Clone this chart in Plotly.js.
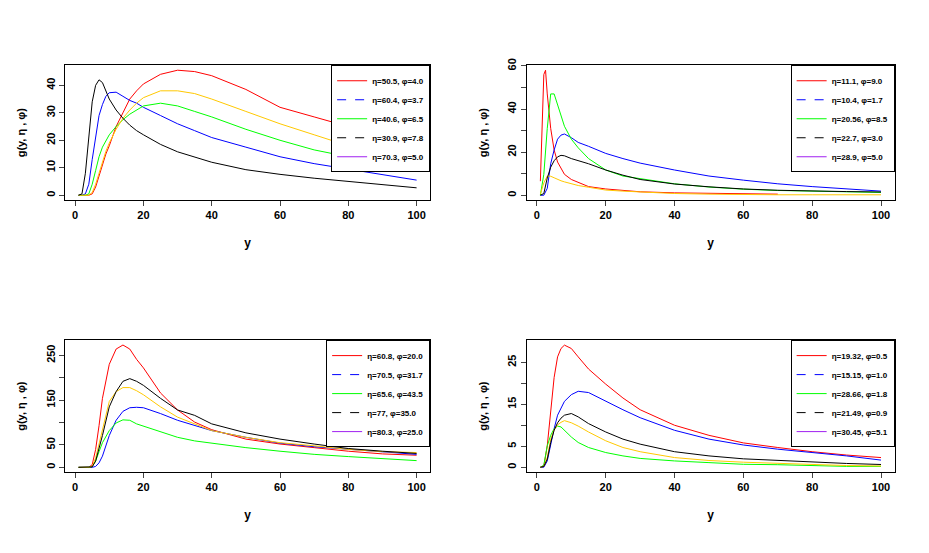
<!DOCTYPE html>
<html>
<head>
<meta charset="utf-8">
<script src="https://cdn.plot.ly/plotly-3.0.1.min.js"></script>
<style>body{margin:0;background:#fff}#chart{width:929px;height:553px}</style>
</head>
<body>
<div id="chart"></div>
<script>
// panel 1
const x1 = [1, 2, 3, 4, 5, 6, 7, 8, 9, 10, 12, 14, 16, 18, 20, 25, 30, 35, 40, 50, 60, 70, 80, 90, 100];
const p1Red = [0, 0, 0, 0, 0.5, 3, 7, 11, 15, 18, 25, 30, 35, 38, 40.5, 44, 45.5, 45, 43.5, 38.5, 32, 28.5, 25, 21.5, 18];
const p1Blue = [0, 0, 0.5, 4, 13, 22, 29, 33, 36, 37.3, 37.5, 36, 34.5, 33.5, 32, 29, 26, 23.5, 21, 17.5, 14, 11.5, 9.5, 7.5, 5.5];
const p1Green = [0, 0, 0, 0.5, 4, 9, 14, 17.5, 20, 22, 25, 27.5, 29.5, 31, 32.5, 33.5, 32.5, 30.5, 28.5, 24, 20, 16.5, 14, 11.5, 9];
const p1Gold = [0, 0, 0, 0, 1, 4, 8, 12, 16, 19, 24, 28, 31, 33.5, 35.5, 38, 38, 37, 35, 30.5, 26, 22, 18, 15.5, 12.5];
const p1Black = [0, 0.5, 8, 22, 34, 40, 42, 41, 38, 35, 31, 28, 25.5, 23.5, 22, 18.5, 15.8, 13.8, 12, 9.3, 7.6, 6.2, 5, 3.8, 2.7];
const p1Labels = ['η=50.5, φ=4.0', 'η=60.4, φ=3.7', 'η=40.6, φ=6.5', 'η=30.9, φ=7.8', 'η=70.3, φ=5.0'];

// panel 2
const x2Red = [1, 1.5, 2, 2.5, 3, 4, 5, 6, 8, 10, 15, 20, 30, 40, 50, 60, 70];
const p2Red = [6.5, 30, 56, 58, 47, 31, 21, 15.4, 9.7, 7.3, 4, 2.9, 1.6, 1.1, 0.8, 0.6, 0.5];
const x2 = [1, 2, 3, 4, 5, 6, 7, 8, 10, 12, 15, 20, 25, 30, 40, 50, 60, 70, 80, 90, 100];
const p2Blue = [0, 0, 3.2, 14.6, 21, 26, 27.9, 28.4, 26.7, 24.5, 22.7, 19.4, 17, 14.9, 11.7, 8.9, 7, 5.3, 4, 2.8, 1.9];
const p2Green = [0, 9.7, 31, 47, 47, 42, 37, 32, 26, 22, 17, 11.7, 8.9, 7.8, 5.3, 3.8, 2.8, 2.2, 1.8, 1.5, 1.3];
const p2Gold = [0.5, 5.7, 8.9, 8.8, 8.1, 7.3, 6.7, 6.2, 5.2, 4.5, 3.7, 2.4, 1.9, 1.5, 0.8, 0.5, 0.2, 0.2, 0.2, 0.2, 0.2];
const p2Black = [0, 0.8, 8, 13, 16, 17.8, 18.5, 18.3, 17, 16, 14.6, 11.7, 9.3, 7.3, 5.2, 3.9, 2.9, 2.3, 1.9, 1.7, 1.5];
const p2Labels = ['η=11.1, φ=9.0', 'η=10.4, φ=1.7', 'η=20.56, φ=8.5', 'η=22.7, φ=3.0', 'η=28.9, φ=5.0'];

// panel 3
const x3 = [1, 4, 5, 6, 7, 8, 10, 12, 14, 16, 18, 20, 25, 30, 35, 40, 50, 60, 70, 80, 90, 100];
const p3Red = [0, 0, 6, 40, 93, 154, 230, 264, 273, 264, 241, 222, 166, 128, 101, 84, 63, 52, 44, 36, 30, 27];
const p3Blue = [0, 0, 0, 2, 10, 25, 71, 105, 125, 133, 134, 133, 120, 105, 93, 82, 67, 54, 46, 40, 35, 29];
const p3Green = [0, 0, 2, 14, 35, 55, 82, 99, 106, 105, 97, 92, 78, 67, 59, 54, 44, 36, 29, 24, 19, 15];
const p3Gold = [0, 0, 2, 21, 52, 86, 147, 169, 178, 178, 171, 162, 135, 112, 97, 82, 67, 55, 48, 40, 35, 33];
const p3Black = [0, 0, 1, 14, 40, 71, 135, 169, 192, 198, 192, 183, 154, 128, 116, 97, 77, 63, 52, 42, 36, 31];
const p3Labels = ['η=60.8, φ=20.0', 'η=70.5, φ=31.7', 'η=65.6, φ=43.5', 'η=77, φ=35.0', 'η=80.3, φ=25.0'];

// panel 4
const x4 = [1, 2, 3, 4, 5, 6, 7, 8, 10, 12, 15, 20, 25, 30, 40, 50, 60, 70, 80, 90, 100];
const p4Red = [0, 0.2, 5.1, 13.2, 21.4, 26.3, 28.3, 29.1, 28.3, 26.3, 23.4, 19.8, 16.5, 13.7, 10, 7.6, 5.8, 4.7, 3.7, 2.9, 2.3];
const p4Blue = [0, 0, 1.5, 5.5, 9.2, 12.4, 14.2, 15.7, 17.3, 18.1, 17.8, 15.7, 13.7, 11.8, 8.8, 6.7, 5.3, 4.3, 3.5, 2.7, 1.7];
const p4Green = [0, 0.5, 5.1, 7.6, 9.2, 9.8, 9.6, 8.8, 7.2, 5.9, 4.7, 3.5, 2.7, 2.1, 1.5, 1.1, 0.7, 0.6, 0.4, 0.2, 0.2];
const p4Gold = [0, 0.2, 2.3, 6.7, 8.9, 10.1, 10.7, 11.1, 10.6, 9.8, 8.4, 6.3, 4.7, 3.7, 2.3, 1.6, 1.2, 0.9, 0.65, 0.4, 0.3];
const p4Black = [0, 0.2, 1.9, 5.9, 8.8, 10.6, 11.7, 12.4, 12.8, 12, 10.4, 8.4, 6.7, 5.5, 3.7, 2.7, 2, 1.6, 1.2, 0.9, 0.65];
const p4Labels = ['η=19.32, φ=0.5', 'η=15.15, φ=1.0', 'η=28.66, φ=1.8', 'η=21.49, φ=0.9', 'η=30.45, φ=5.1'];

const curveColors = ['red', 'blue', '#00ff00', '#ffc800', 'black'];
const legendColors = ['red', 'blue', '#00ff00', 'black', '#a020f0'];
const legendDash = ['solid', 'dash', 'solid', 'dash', 'solid'];

const panels = [
  { xs: [x1, x1, x1, x1, x1], ys: [p1Red, p1Blue, p1Green, p1Gold, p1Black], labels: p1Labels,
    range: [-1.8, 47.3], tickvals: [0, 10, 20, 30, 40], ticktext: ['0', '10', '20', '30', '40'] },
  { xs: [x2Red, x2, x2, x2, x2], ys: [p2Red, p2Blue, p2Green, p2Gold, p2Black], labels: p2Labels,
    range: [-2.3, 60.3], tickvals: [0, 10, 20, 30, 40, 50, 60], ticktext: ['0', '', '20', '', '40', '', '60'] },
  { xs: [x3, x3, x3, x3, x3], ys: [p3Red, p3Blue, p3Green, p3Gold, p3Black], labels: p3Labels,
    range: [-11, 284], tickvals: [0, 50, 100, 150, 200, 250], ticktext: ['0', '50', '', '150', '', '250'] },
  { xs: [x4, x4, x4, x4, x4], ys: [p4Red, p4Blue, p4Green, p4Gold, p4Black], labels: p4Labels,
    range: [-1.2, 30.3], tickvals: [0, 5, 10, 15, 20, 25], ticktext: ['0', '5', '', '15', '', '25'] },
];

const xDomains = [[0.070, 0.463], [0.567, 0.963], [0.070, 0.463], [0.567, 0.963]];
const yDomains = [[0.638, 0.882], [0.638, 0.882], [0.146, 0.385], [0.146, 0.385]];
const FONT = 'Liberation Sans, Arial, sans-serif';

const traces = [];
const layout = {
  width: 929,
  height: 553,
  margin: { l: 0, r: 0, t: 0, b: 0 },
  paper_bgcolor: '#fff',
  plot_bgcolor: '#fff',
  font: { family: FONT, size: 11, color: '#000' },
};

panels.forEach((panel, i) => {
  const n = i === 0 ? '' : String(i + 1);
  const legendName = `legend${n}`;
  panel.ys.forEach((y, k) => {
    traces.push({
      type: 'scatter',
      mode: 'lines',
      x: panel.xs[k],
      y,
      xaxis: `x${n}`,
      yaxis: `y${n}`,
      line: { color: curveColors[k], width: 1 },
      showlegend: false,
      hoverinfo: 'skip',
    });
  });
  // legend entries, styled as in the reference box
  panel.labels.forEach((label, k) => {
    traces.push({
      type: 'scatter',
      mode: 'lines',
      x: [null],
      y: [null],
      xaxis: `x${n}`,
      yaxis: `y${n}`,
      name: label,
      legend: legendName,
      line: { color: legendColors[k], width: 1, dash: legendDash[k] },
    });
  });

  layout[`xaxis${n}`] = {
    domain: xDomains[i],
    anchor: `y${n}`,
    range: [-2.96, 103.96],
    tickvals: [0, 20, 40, 60, 80, 100],
    ticks: 'outside',
    ticklen: 5,
    showgrid: false,
    zeroline: false,
    showline: true,
    mirror: true,
    linecolor: '#000',
    tickfont: { family: FONT, size: 11, color: '#000', weight: 'bold' },
    title: { text: '<b>y</b>', standoff: 18, font: { family: FONT, size: 12 } },
  };
  layout[`yaxis${n}`] = {
    domain: yDomains[i],
    anchor: `x${n}`,
    range: panel.range,
    tickvals: panel.tickvals,
    ticktext: panel.ticktext,
    tickangle: -90,
    ticks: 'outside',
    ticklen: 5,
    showgrid: false,
    zeroline: false,
    showline: true,
    mirror: true,
    linecolor: '#000',
    tickfont: { family: FONT, size: 11, color: '#000', weight: 'bold' },
    title: { text: '<b>g(y, η , φ)</b>', standoff: 16, font: { family: FONT, size: 11 } },
  };
  layout[legendName] = {
    x: xDomains[i][1],
    y: yDomains[i][1],
    xanchor: 'right',
    yanchor: 'top',
    bgcolor: '#fff',
    bordercolor: '#000',
    borderwidth: 1,
    tracegroupgap: 0,
    itemwidth: 30,
    font: { family: FONT, size: 8, color: '#000', weight: 'bold' },
  };
});

Plotly.newPlot('chart', traces, layout, { displayModeBar: false, staticPlot: true });
</script>
</body>
</html>
